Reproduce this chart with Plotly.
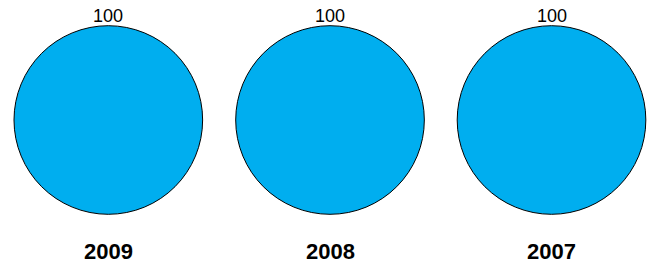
import plotly.graph_objects as go

years = ["2009", "2008", "2007"]
values = [100, 100, 100]
slice_label = ["Total"]
color = "#00AEEF"

W, H = 651, 263
centers_px = [108.3, 330.0, 551.5]
radius_px = 94.3
cy_px = 120.0
label_y_px = 16.0
title_y_px = 251.0

FONT = "Liberation Sans, Arial, sans-serif"

fig = go.Figure()
for i, (yr, v) in enumerate(zip(years, values)):
    cx = centers_px[i]
    fig.add_trace(go.Pie(
        labels=slice_label, values=[v], sort=False,
        marker=dict(colors=[color], line=dict(color="black", width=1)),
        textinfo="none", hoverinfo="label+value", showlegend=False,
        domain=dict(x=[(cx - radius_px) / W, (cx + radius_px) / W],
                    y=[(H - cy_px - radius_px) / H, (H - cy_px + radius_px) / H]),
    ))
    fig.add_annotation(x=cx / W, y=1 - label_y_px / H, xref="paper", yref="paper",
                       xanchor="center", yanchor="middle",
                       text=str(v), showarrow=False,
                       font=dict(family=FONT, size=18, color="black"))
    fig.add_annotation(x=cx / W, y=1 - title_y_px / H, xref="paper", yref="paper",
                       xanchor="center", yanchor="middle",
                       text="<b>%s</b>" % yr, showarrow=False,
                       font=dict(family=FONT, size=22, color="black"))

fig.update_layout(width=W, height=H, margin=dict(l=0, r=0, t=0, b=0),
                  paper_bgcolor="white", plot_bgcolor="white")
fig.write_html("out.html",
               config={"displayModeBar": False},
               post_script="document.body.style.margin='0';"
                           "document.documentElement.style.overflow='hidden';"
                           "document.body.style.overflow='hidden';")
